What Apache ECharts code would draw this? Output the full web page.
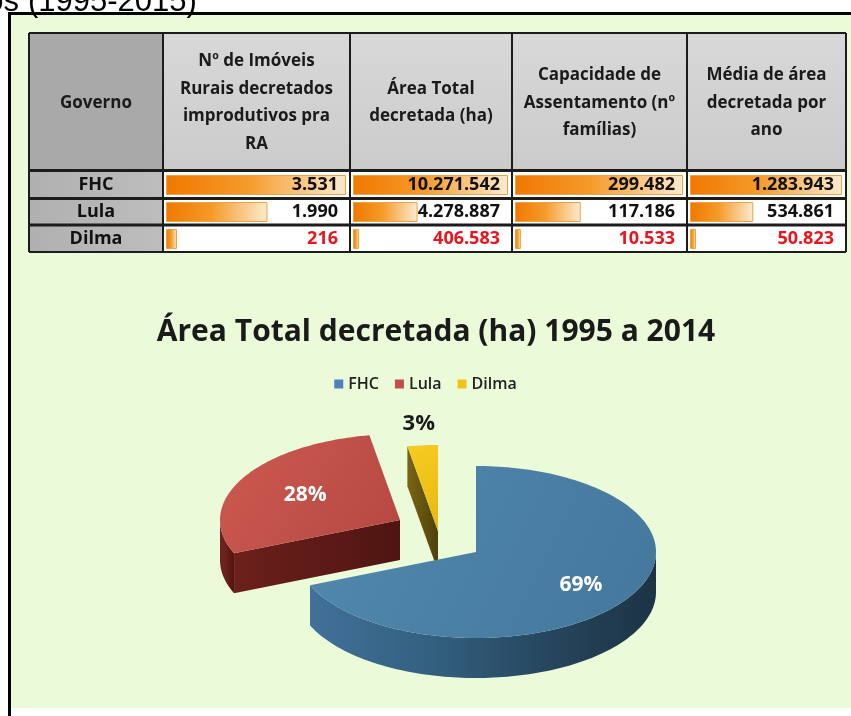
<!DOCTYPE html>
<html>
<head>
<meta charset="utf-8">
<title>Área Total decretada (ha) 1995 a 2014</title>
<script src="https://cdn.jsdelivr.net/npm/echarts@6/dist/echarts.min.js"></script>
<style>
html, body { margin: 0; padding: 0; background: #fff; }
#chart { width: 851px; height: 716px; }
</style>
</head>
<body>
<div id="chart"></div>
<script>
// dados
var governos = ['FHC', 'Lula', 'Dilma'];
var imoveis = [3531, 1990, 216];
var areaTotal = [10271542, 4278887, 406583];
var capacidade = [299482, 117186, 10533];
var mediaAno = [1283943, 534861, 50823];
var headerLabels = [
    'Governo',
    'Nº de Imóveis\nRurais decretados\nimprodutivos pra\nRA',
    'Área Total\ndecretada (ha)',
    'Capacidade de\nAssentamento (nº\nfamílias)',
    'Média de área\ndecretada por\nano'
];
var pieTitle = 'Área Total decretada (ha) 1995 a 2014';
var pieValues = areaTotal;
var pieLabels = ['69%', '28%', '3%'];

// layout
var W = 851, H = 716;
var colX = [29, 163, 350, 512, 687, 846];
var tableTop = 33, headBottom = 170.5, tableBottom = 252;
var rowLines = [198.5, 225];
var FONT = '"Open Sans", "Noto Sans", sans-serif';
var PIE = { cx: 476, cy: 552, rx: 180, ry: 86, depth: 40 };
var sliceShift = [[0, 0], [-76, -32], [-38, -21]];
var sliceColors = [
    { legend: '#4f81bd', top: ['#5289ae', '#44779b'], wall: ['#41709a', '#33607f', '#26455d', '#1c3345'], face: ['#2f5775', '#1f3a50'] },
    { legend: '#c0504d', top: ['#cc5a50', '#b54842'], wall: ['#6e221e', '#6e221e', '#5e1a17', '#52140f'], face: ['#6c201c', '#4f1512'] },
    { legend: '#f2c318', top: ['#f6cb22', '#e8b90f'], wall: ['#7a6514', '#6f5c10', '#5c4c0c', '#4e420b'], face: ['#7a6514', '#4e420b'] }
];
var columns = [imoveis, areaTotal, capacidade, mediaAno];

function fmt(v) {
    return String(v).replace(/\B(?=(\d{3})+(?!\d))/g, '.');
}

var grids = [], xAxes = [], yAxes = [], series = [];
columns.forEach(function (vals, j) {
    var l = colX[j + 1] + 3, r = colX[j + 2] - 4;
    grids.push({ left: l, width: r - l, top: tableTop + 138.5, height: 81 });
    xAxes.push({ gridIndex: j, type: 'value', min: 0, max: Math.max.apply(null, vals), show: false });
    yAxes.push({
        gridIndex: j, type: 'category', data: governos, inverse: true,
        axisLine: { show: false }, axisTick: { show: false },
        axisLabel: {
            show: j === 0, margin: l - (colX[0] + colX[1]) / 2, align: 'center',
            fontFamily: FONT, fontWeight: 'bold', fontSize: 18, color: '#111'
        }
    });
    yAxes.push({
        gridIndex: j, type: 'category', data: governos, inverse: true, position: 'right', z: 10,
        axisLine: { show: false }, axisTick: { show: false },
        axisLabel: {
            inside: true, margin: 8,
            formatter: function (v, i) {
                return (i === 2 ? '{r|' : '{b|') + fmt(vals[i]) + '}';
            },
            rich: {
                b: { fontFamily: FONT, fontWeight: 'bold', fontSize: 18, color: '#111' },
                r: { fontFamily: FONT, fontWeight: 'bold', fontSize: 18, color: '#e8141e' }
            }
        }
    });
    series.push({
        type: 'bar', xAxisIndex: j, yAxisIndex: 2 * j, data: vals, barWidth: 20,
        silent: true,
        itemStyle: {
            color: new echarts.graphic.LinearGradient(0, 0, 1, 0, [
                { offset: 0, color: '#f07800' },
                { offset: 0.45, color: '#f59a2a' },
                { offset: 1, color: '#fdebcf' }
            ]),
            borderColor: '#eda340', borderWidth: 1
        }
    });
});

// 3D pie slices
var pieTotal = pieValues.reduce(function (s, v) { return s + v; }, 0);

function pieSlice(idx) {
    return function (params, api) {
        var start = 0;
        for (var k = 0; k < idx; k++) start += pieValues[k];
        var a1 = start / pieTotal * Math.PI * 2;
        var a2 = (start + api.value(0)) / pieTotal * Math.PI * 2;
        var ox = PIE.cx + sliceShift[idx][0], oy = PIE.cy + sliceShift[idx][1];
        var col = sliceColors[idx];
        function pt(a, dz) {
            return [ox + PIE.rx * Math.sin(a), oy - PIE.ry * Math.cos(a) + (dz || 0)];
        }
        function arc(from, to, dz) {
            var n = Math.max(2, Math.ceil((to - from) * 40)), out = [];
            for (var i = 0; i <= n; i++) out.push(pt(from + (to - from) * i / n, dz));
            return out;
        }
        function avgY(pts) {
            return pts.reduce(function (s, p) { return s + p[1]; }, 0) / pts.length;
        }
        function cutFace(a) {
            var p = pt(a, 0);
            var pts = [[ox, oy], p, [p[0], p[1] + PIE.depth], [ox, oy + PIE.depth]];
            return {
                type: 'polygon', z2: Math.round(avgY(pts)), shape: { points: pts },
                style: {
                    fill: new echarts.graphic.LinearGradient(0, 0, 1, 0, [
                        { offset: 0, color: col.face[0] }, { offset: 1, color: col.face[1] }
                    ])
                }
            };
        }
        var kids = [];
        var f1 = Math.max(a1, Math.PI / 2), f2 = Math.min(a2, Math.PI * 1.5);
        if (f2 > f1) {
            var wall = arc(f1, f2, 0).concat(arc(f1, f2, PIE.depth).reverse());
            kids.push({
                type: 'polygon', z2: Math.round(avgY(wall)), shape: { points: wall },
                style: {
                    fill: new echarts.graphic.LinearGradient(0, 0, 1, 0, [
                        { offset: 0, color: col.wall[0] }, { offset: 0.35, color: col.wall[1] },
                        { offset: 0.7, color: col.wall[2] }, { offset: 1, color: col.wall[3] }
                    ])
                }
            });
        }
        if (Math.sin(a1) < -1e-6) kids.push(cutFace(a1));
        if (Math.sin(a2) > 1e-6) kids.push(cutFace(a2));
        var top = [[ox, oy]].concat(arc(a1, a2, 0));
        kids.push({
            type: 'polygon', z2: 1000, shape: { points: top },
            style: {
                fill: new echarts.graphic.LinearGradient(0, 0, 1, 1, [
                    { offset: 0, color: col.top[0] }, { offset: 1, color: col.top[1] }
                ])
            }
        });
        var mid = (a1 + a2) / 2;
        var outside = idx === 2;
        var f = outside ? 1.25 : (idx === 0 ? 0.7 : 0.6);
        kids.push({
            type: 'text', z2: 2000,
            x: ox + PIE.rx * f * Math.sin(mid), y: oy - PIE.ry * f * Math.cos(mid),
            style: {
                text: pieLabels[idx], fill: outside ? '#1a1a1a' : '#ffffff',
                font: 'bold ' + (outside ? 22 : 21) + 'px ' + FONT,
                align: 'center', verticalAlign: 'middle'
            }
        });
        return { type: 'group', children: kids };
    };
}

governos.forEach(function (g, i) {
    series.push({
        type: 'custom', name: g, coordinateSystem: 'none', silent: true,
        itemStyle: { color: sliceColors[i].legend },
        data: [[pieValues[i]]],
        renderItem: pieSlice(i)
    });
});

// moldura, cabeçalho da tabela
var graphics = [
    { type: 'rect', shape: { x: 0, y: 0, width: W, height: H }, style: { fill: '#ffffff' } },
    { type: 'rect', shape: { x: 11, y: 15, width: W, height: 693 }, style: { fill: '#ebfad8' } },
    { type: 'rect', shape: { x: 9.5, y: 13.5, width: 1000, height: 1000 }, style: { fill: 'none', stroke: '#000', lineWidth: 3 } },
    { type: 'text', x: 28, y: 2, style: { text: '(1995-2015)', font: '31px "Liberation Sans", Arial, sans-serif', fill: '#000', align: 'left', verticalAlign: 'middle' } },
    { type: 'text', x: 19, y: 2, style: { text: 'os', font: '31px "Liberation Sans", Arial, sans-serif', fill: '#000', align: 'right', verticalAlign: 'middle' } },
    { type: 'rect', shape: { x: colX[0], y: tableTop, width: colX[1] - colX[0], height: headBottom - tableTop }, style: { fill: '#a9a9a9' } },
    { type: 'rect', shape: { x: colX[1], y: tableTop, width: colX[5] - colX[1], height: headBottom - tableTop },
      style: { fill: new echarts.graphic.LinearGradient(0, 0, 0, 1, [{ offset: 0, color: '#d8d8d8' }, { offset: 1, color: '#cbcbcb' }]) } },
    { type: 'rect', shape: { x: colX[0], y: headBottom, width: colX[1] - colX[0], height: tableBottom - headBottom },
      style: { fill: new echarts.graphic.LinearGradient(0, 0, 1, 0, [{ offset: 0, color: '#b0b0b0' }, { offset: 1, color: '#bdbdbd' }]) } },
    { type: 'rect', shape: { x: colX[1], y: headBottom, width: colX[5] - colX[1], height: tableBottom - headBottom }, style: { fill: '#ffffff' } }
];
headerLabels.forEach(function (t, i) {
    graphics.push({
        type: 'text', x: (colX[i] + colX[i + 1]) / 2, y: (tableTop + headBottom) / 2 + 1,
        style: {
            text: t, font: 'bold 17px ' + FONT, fill: '#1a1a1a', lineHeight: 27.5,
            align: 'center', verticalAlign: 'middle'
        }
    });
});
colX.forEach(function (x) {
    graphics.push({ type: 'line', shape: { x1: x, y1: tableTop, x2: x, y2: tableBottom }, style: { stroke: '#1c1c1c', lineWidth: 2 } });
});
[tableTop, tableBottom].forEach(function (y) {
    graphics.push({ type: 'line', shape: { x1: colX[0], y1: y, x2: colX[5], y2: y }, style: { stroke: '#1c1c1c', lineWidth: 2 } });
});
[headBottom].concat(rowLines).forEach(function (y) {
    graphics.push({ type: 'line', shape: { x1: colX[0], y1: y, x2: colX[5], y2: y }, style: { stroke: '#1c1c1c', lineWidth: 3 } });
});

var myChart = echarts.init(document.getElementById('chart'), null, { renderer: 'canvas' });
var option = {
    animation: false,
    title: {
        text: pieTitle, left: 431, textAlign: 'center', top: 312,
        textStyle: { fontFamily: FONT, fontWeight: 'bold', fontSize: 30, color: '#1a1a1a' }
    },
    legend: {
        data: governos, top: 371, left: 'center', icon: 'rect',
        itemWidth: 9, itemHeight: 9, itemGap: 16, selectedMode: false,
        textStyle: { fontFamily: FONT, fontWeight: 600, fontSize: 16, color: '#222' }
    },
    graphic: graphics,
    grid: grids,
    xAxis: xAxes,
    yAxis: yAxes,
    series: series
};
myChart.setOption(option);
</script>
</body>
</html>
